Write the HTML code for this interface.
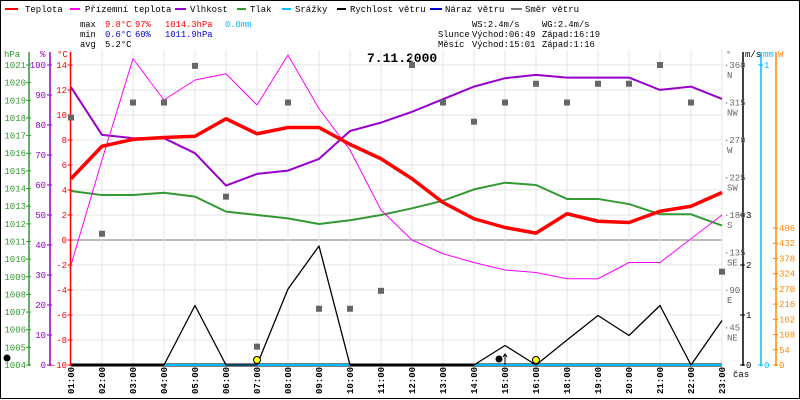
<!DOCTYPE html>
<html><head><meta charset="utf-8">
<style>
html,body{margin:0;padding:0;background:#fff;}
svg{display:block;}
text{font-family:"Liberation Mono",monospace;}
</style></head>
<body>
<svg id="chart" width="800" height="400" viewBox="0 0 800 400" xmlns="http://www.w3.org/2000/svg">
<rect x="0.5" y="0.5" width="799" height="398" fill="#fff" stroke="#000"/>
<g id="legend" font-size="9">
 <g><line x1="5" y1="9" x2="18" y2="9" stroke="#f00" stroke-width="2"/><text x="25" y="12">Teplota</text></g>
 <g><line x1="70" y1="9" x2="80" y2="9" stroke="#f0f" stroke-width="2"/><text x="85" y="12">Přízemní teplota</text></g>
 <g><line x1="175" y1="9" x2="186" y2="9" stroke="#90c" stroke-width="2"/><text x="190" y="12">Vlhkost</text></g>
 <g><line x1="237" y1="9" x2="246" y2="9" stroke="#393" stroke-width="2"/><text x="250" y="12">Tlak</text></g>
 <g><line x1="282" y1="9" x2="291" y2="9" stroke="#0bf" stroke-width="2"/><text x="295" y="12">Srážky</text></g>
 <g><line x1="337" y1="9" x2="346" y2="9" stroke="#000" stroke-width="2"/><text x="350" y="12">Rychlost větru</text></g>
 <g><line x1="430" y1="9" x2="442" y2="9" stroke="#00c" stroke-width="2"/><text x="445" y="12">Náraz větru</text></g>
 <g><line x1="511" y1="9" x2="522" y2="9" stroke="#777" stroke-width="2"/><text x="525" y="12">Směr větru</text></g>
</g>
<g id="stats" font-size="8.8">
 <text x="80" y="27">max</text><text x="105" y="27" fill="#f00">9.8°C</text><text x="135" y="27" fill="#f00">97%</text><text x="165" y="27" fill="#f00">1014.3hPa</text><text x="225" y="27" fill="#0bf">0.0mm</text>
 <text x="80" y="37">min</text><text x="105" y="37" fill="#00c">0.6°C</text><text x="135" y="37" fill="#00c">60%</text><text x="165" y="37" fill="#00c">1011.9hPa</text>
 <text x="80" y="47">avg</text><text x="105" y="47">5.2°C</text>
 <text x="472" y="27">WS:2.4m/s</text><text x="542" y="27">WG:2.4m/s</text>
 <text x="438" y="37">Slunce</text><text x="472" y="37">Východ:06:49</text><text x="542" y="37">Západ:16:19</text>
 <text x="438" y="47">Měsíc</text><text x="472" y="47">Východ:15:01</text><text x="542" y="47">Západ:1:16</text>
</g>
<text x="367" y="62" font-size="13" font-weight="bold">7.11.2000</text>
<g id="grid"></g>
<g id="axes"></g>
<g id="series"></g>
</svg>
<script>
const hours = ["01:00","02:00","03:00","04:00","05:00","06:00","07:00","08:00","09:00","10:00","11:00","12:00","13:00","14:00","15:00","16:00","18:00","19:00","20:00","21:00","22:00","23:00"];
const temperature = [4.9,7.5,8.05,8.2,8.3,9.7,8.5,9.0,9.0,7.65,6.5,4.9,3.0,1.7,1.0,0.55,2.1,1.5,1.4,2.3,2.7,3.8];
const apparentTemp = [-2,6.4,14.5,11.2,12.8,13.3,10.8,14.8,10.5,7.2,2.4,0,-1.1,-1.8,-2.4,-2.6,-3.1,-3.1,-1.8,-1.8,0.1,2.0];
const humidity = [92.6,76.7,75.6,75.6,70.6,59.8,63.7,64.8,68.7,78,80.8,84.4,88.6,92.8,95.6,96.7,95.8,95.8,95.8,91.7,92.8,88.7];
const pressure = [1013.86,1013.63,1013.63,1013.76,1013.54,1012.69,1012.5,1012.31,1011.99,1012.2,1012.5,1012.88,1013.31,1013.95,1014.33,1014.2,1013.41,1013.41,1013.12,1012.54,1012.54,1011.9];
const windSpeed = [0,0,0,0,1.19,0,0,1.52,2.38,0,0,0,0,0,0.39,0,0.5,0.99,0.59,1.19,0,0.89];
const windDir = [297,157.5,315,315,359,202,22,315,67.5,67.5,89,360,315,292,315,337.5,315,337.5,337.5,360,315,112];
const precipStart = [3,13];
const precipEnd = [9,21];
const tempTicks = [14,12,10,8,6,4,2,0,-2,-4,-6,-8,-10];
const humTicks = [100,90,80,70,60,50,40,30,20,10,0];
const presTicks = [1021,1020,1019,1018,1017,1016,1015,1014,1013,1012,1011,1010,1009,1008,1007,1006,1005,1004];
const dirTicks = [360,315,270,225,180,135,90,45];
const dirNames = ["N","NW","W","SW","S","SE","E","NE"];
const windTicks = [0,1,2,3];
const radTicks = [0,54,108,162,216,270,324,378,432,486];

const NS="http://www.w3.org/2000/svg";
const X0=71, DX=31, TOP=65, BOT=365;
const xs = i => X0 + i*DX;
const yT = t => 240 - t*12.5;
const yH = h => BOT - h*3;
const yP = p => TOP + (1021-p)*(300/17);
const yW = v => BOT - v*50;
const yD = d => BOT - d*300/360;
const yR = r => BOT - r*(137/486);
function mk(tag, attrs, parent){const e=document.createElementNS(NS,tag);for(const k in attrs)e.setAttribute(k,attrs[k]);parent.appendChild(e);return e;}
const grid=document.getElementById('grid'), axes=document.getElementById('axes'), ser=document.getElementById('series');

tempTicks.forEach(t=>{const l=mk('line',{x1:X0,x2:xs(hours.length-1),y1:yT(t),y2:yT(t),stroke:t===0?'#777':'#e4e4e4','stroke-width':1},grid);

});
hours.forEach((h,i)=>{const l=mk('line',{x1:xs(i),x2:xs(i),y1:TOP-15,y2:BOT,stroke:'#e4e4e4'},grid);


const t=mk('text',{x:0,y:0,'font-size':9,'font-weight':'bold',transform:`translate(${xs(i)+3},394) rotate(-90)`},axes);
t.textContent=h;

});
const cas=mk('text',{x:733,y:377,'font-size':9},axes);cas.textContent='čas';



function axis(x,color,ticks,yf,labelX,anchor,name){
 const g=mk('g',{},axes);
 
 
 mk('line',{x1:x,x2:x,y1:52,y2:BOT+1,stroke:color,'stroke-width':1.5},g);
 ticks.forEach(v=>{mk('line',{x1:x-3,x2:x+2,y1:yf(v),y2:yf(v),stroke:color},g);
  const t=mk('text',{x:labelX,y:yf(v)+3,'font-size':9,fill:color,'text-anchor':anchor},g);t.textContent=v;});
}
axis(29,'#393',presTicks,yP,26,'end','pressure-axis');
axis(50,'#90c',humTicks,yH,46,'end','humidity-axis');
axis(70.5,'#f00',tempTicks,yT,67,'end','temperature-axis');
axis(743,'#000',windTicks,yW,746,'start','wind-speed-axis');
axis(776,'#f80',radTicks,yR,779,'start','radiation-axis');
(function(){const g=mk('g',{},axes);
 
 
 mk('line',{x1:761,x2:761,y1:52,y2:BOT+1,stroke:'#0bf','stroke-width':1.5},g);
 [[0,BOT],[1,TOP]].forEach(([v,y])=>{mk('line',{x1:758,x2:763,y1:y,y2:y,stroke:'#0bf'},g);const t=mk('text',{x:764,y:y+3,'font-size':9,fill:'#0bf'},g);t.textContent=v;});})();
dirTicks.forEach((d,i)=>{const t=mk('text',{x:724,y:yD(d)+3,'font-size':9,fill:'#666'},axes);t.textContent='·'+d;


const n=mk('text',{x:727,y:yD(d)+13,'font-size':9,fill:'#666'},axes);n.textContent=dirNames[i];

});
[['hPa',4,'#393'],['%',40,'#90c'],['°C',57,'#f00'],['°',726,'#666'],['m/s',745,'#000'],['mm',763,'#0bf'],['W',778,'#f80']].forEach(([s,x,c])=>{const t=mk('text',{x:x,y:57,'font-size':9,fill:c},axes);t.textContent=s;

});

function line(vals,yf,color,w,name){const p=mk('polyline',{points:vals.map((v,i)=>xs(i)+','+yf(v)).join(' '),fill:'none',stroke:color,'stroke-width':w,'stroke-linejoin':'round'},ser);

}
const bl=mk('line',{x1:X0,x2:xs(hours.length-1),y1:BOT,y2:BOT,stroke:'#000','stroke-width':3},ser);


precipStart.forEach((s,k)=>{const l=mk('line',{x1:xs(s),x2:xs(precipEnd[k]),y1:BOT,y2:BOT,stroke:'#0bf','stroke-width':2},ser);

});
line(pressure,yP,'#393',2,'pressure-line');
line(humidity,yH,'#90c',2,'humidity-line');
line(apparentTemp,yT,'#f0f',1,'apparent-temperature-line');
line(temperature,yT,'#f00',3.5,'temperature-line');
line(windSpeed,yW,'#000',1.3,'wind-speed-line');
windDir.forEach((d,i)=>{const r=mk('rect',{x:xs(i)-3,y:yD(d)-3,width:6,height:6,fill:'#666'},ser);

});
[[6],[15]].forEach(([i])=>{const c=mk('circle',{cx:xs(i),cy:360,r:3.5,fill:'#ff0',stroke:'#000'},ser);

});
[[499,359],[7,358]].forEach(([x,y])=>{const c=mk('circle',{cx:x,cy:y,r:3.5,fill:'#000'},ser);

});
const ar=mk('path',{d:'M505 365 V354 M503 357 L505 354 L507 357',stroke:'#000',fill:'none'},ser);


</script>
</body></html>
